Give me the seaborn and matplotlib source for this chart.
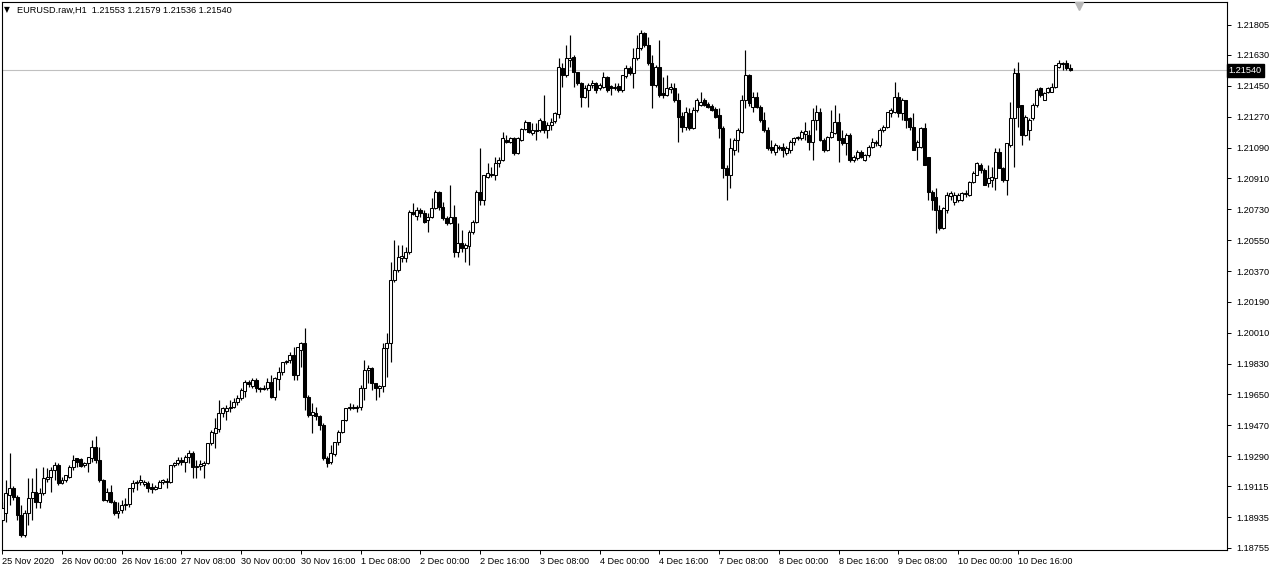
import numpy as np
import matplotlib
matplotlib.use("Agg")
import matplotlib.pyplot as plt
import seaborn as sns

# ---------------- data (EURUSD H1) ----------------
opens = [
 1.18918, 1.18959, 1.19064, 1.19105, 1.19052, 1.18947, 1.18831, 1.18959, 1.19047, 1.19082,
 1.19023, 1.19076, 1.19157, 1.19169, 1.19210, 1.19239, 1.19134, 1.19151, 1.19169, 1.19227,
 1.19280, 1.19274, 1.19239, 1.19251, 1.19280, 1.19344, 1.19268, 1.19151, 1.19035, 1.19082,
 1.19023, 1.18959, 1.18976, 1.19006, 1.19012, 1.19105, 1.19134, 1.19140, 1.19128, 1.19134,
 1.19111, 1.19099, 1.19105, 1.19140, 1.19146, 1.19140, 1.19239, 1.19251, 1.19268, 1.19257,
 1.19286, 1.19309, 1.19227, 1.19233, 1.19239, 1.19251, 1.19367, 1.19425, 1.19449, 1.19542,
 1.19554, 1.19571, 1.19577, 1.19606, 1.19630, 1.19671, 1.19723, 1.19700, 1.19735, 1.19688,
 1.19682, 1.19688, 1.19723, 1.19636, 1.19741, 1.19781, 1.19840, 1.19851, 1.19881, 1.19764,
 1.19910, 1.19951, 1.19636, 1.19531, 1.19542, 1.19525, 1.19472, 1.19280, 1.19257, 1.19303,
 1.19373, 1.19431, 1.19501, 1.19571, 1.19577, 1.19571, 1.19577, 1.19688, 1.19793, 1.19805,
 1.19717, 1.19688, 1.19700, 1.19921, 1.19951, 1.20318, 1.20376, 1.20446, 1.20446, 1.20481,
 1.20714, 1.20691, 1.20726, 1.20709, 1.20668, 1.20685, 1.20738, 1.20831, 1.20744, 1.20680,
 1.20651, 1.20685, 1.20481, 1.20534, 1.20505, 1.20516, 1.20598, 1.20656, 1.20831, 1.20784,
 1.20918, 1.20936, 1.20930, 1.21001, 1.21018, 1.21134, 1.21123, 1.21146, 1.21059, 1.21134,
 1.21198, 1.21239, 1.21175, 1.21187, 1.21193, 1.21245, 1.21193, 1.21222, 1.21245, 1.21286,
 1.21554, 1.21514, 1.21601, 1.21619, 1.21531, 1.21467, 1.21385, 1.21426, 1.21455, 1.21467,
 1.21438, 1.21444, 1.21502, 1.21450, 1.21438, 1.21450, 1.21426, 1.21508, 1.21554, 1.21525,
 1.21613, 1.21671, 1.21758, 1.21689, 1.21584, 1.21455, 1.21560, 1.21409, 1.21397, 1.21432,
 1.21438, 1.21368, 1.21274, 1.21210, 1.21292, 1.21204, 1.21309, 1.21339, 1.21368, 1.21344,
 1.21333, 1.21315, 1.21280, 1.21204, 1.20971, 1.20930, 1.21076, 1.21134, 1.21181, 1.21368,
 1.21514, 1.21327, 1.21385, 1.21327, 1.21251, 1.21193, 1.21094, 1.21065, 1.21088, 1.21094,
 1.21059, 1.21076, 1.21123, 1.21146, 1.21146, 1.21170, 1.21164, 1.21123, 1.21251, 1.21298,
 1.21134, 1.21076, 1.21152, 1.21175, 1.21239, 1.21146, 1.21117, 1.21164, 1.21018, 1.21030,
 1.21065, 1.21018, 1.21047, 1.21094, 1.21117, 1.21105, 1.21193, 1.21210, 1.21292, 1.21298,
 1.21385, 1.21292, 1.21368, 1.21263, 1.21210, 1.21094, 1.21094, 1.21204, 1.21036, 1.20831,
 1.20802, 1.20726, 1.20621, 1.20726, 1.20808, 1.20773, 1.20784, 1.20784, 1.20820, 1.20814,
 1.20889, 1.20930, 1.20989, 1.20959, 1.20884, 1.20901, 1.20913, 1.21065, 1.20971, 1.20901,
 1.21105, 1.21263, 1.21525, 1.21339, 1.21164, 1.21193, 1.21263, 1.21339, 1.21438, 1.21368,
 1.21415, 1.21415, 1.21444, 1.21560, 1.21578, 1.21584, 1.21553]

highs = [
 1.19023, 1.19151, 1.19309, 1.19116, 1.19064, 1.19006, 1.18976, 1.19163, 1.19163, 1.19222,
 1.19105, 1.19227, 1.19222, 1.19227, 1.19257, 1.19251, 1.19169, 1.19181, 1.19239, 1.19297,
 1.19280, 1.19280, 1.19257, 1.19286, 1.19385, 1.19408, 1.19344, 1.19157, 1.19105, 1.19122,
 1.19035, 1.19023, 1.19035, 1.19047, 1.19105, 1.19151, 1.19151, 1.19181, 1.19151, 1.19146,
 1.19134, 1.19122, 1.19151, 1.19157, 1.19163, 1.19239, 1.19257, 1.19286, 1.19286, 1.19297,
 1.19326, 1.19320, 1.19268, 1.19268, 1.19262, 1.19367, 1.19443, 1.19513, 1.19618, 1.19577,
 1.19589, 1.19618, 1.19630, 1.19647, 1.19688, 1.19735, 1.19735, 1.19746, 1.19746, 1.19694,
 1.19706, 1.19746, 1.19764, 1.19752, 1.19811, 1.19840, 1.19851, 1.19898, 1.19928, 1.19928,
 1.19956, 1.20038, 1.19647, 1.19601, 1.19577, 1.19531, 1.19484, 1.19292, 1.19356, 1.19373,
 1.19443, 1.19501, 1.19571, 1.19601, 1.19595, 1.19589, 1.19706, 1.19851, 1.19822, 1.19811,
 1.19717, 1.19706, 1.19951, 1.20009, 1.20423, 1.20551, 1.20522, 1.20522, 1.20511, 1.20726,
 1.20767, 1.20744, 1.20738, 1.20726, 1.20709, 1.20796, 1.20843, 1.20837, 1.20773, 1.20691,
 1.20872, 1.20755, 1.20651, 1.20609, 1.20534, 1.20609, 1.20668, 1.20843, 1.21088, 1.20930,
 1.21001, 1.20977, 1.21036, 1.21036, 1.21181, 1.21164, 1.21152, 1.21152, 1.21152, 1.21204,
 1.21251, 1.21239, 1.21233, 1.21233, 1.21263, 1.21397, 1.21239, 1.21263, 1.21298, 1.21613,
 1.21584, 1.21689, 1.21747, 1.21630, 1.21531, 1.21473, 1.21455, 1.21467, 1.21484, 1.21473,
 1.21467, 1.21531, 1.21508, 1.21455, 1.21467, 1.21467, 1.21514, 1.21572, 1.21566, 1.21671,
 1.21747, 1.21776, 1.21764, 1.21735, 1.21630, 1.21572, 1.21718, 1.21502, 1.21514, 1.21467,
 1.21467, 1.21409, 1.21298, 1.21327, 1.21321, 1.21327, 1.21380, 1.21415, 1.21380, 1.21356,
 1.21344, 1.21327, 1.21321, 1.21216, 1.20989, 1.21146, 1.21146, 1.21204, 1.21397, 1.21659,
 1.21520, 1.21415, 1.21415, 1.21339, 1.21298, 1.21210, 1.21134, 1.21117, 1.21105, 1.21117,
 1.21099, 1.21134, 1.21152, 1.21158, 1.21193, 1.21239, 1.21193, 1.21321, 1.21339, 1.21321,
 1.21146, 1.21158, 1.21309, 1.21339, 1.21292, 1.21193, 1.21175, 1.21175, 1.21047, 1.21076,
 1.21076, 1.21053, 1.21105, 1.21146, 1.21134, 1.21204, 1.21222, 1.21298, 1.21321, 1.21473,
 1.21415, 1.21380, 1.21368, 1.21269, 1.21292, 1.21134, 1.21210, 1.21233, 1.21036, 1.20843,
 1.20855, 1.20755, 1.20744, 1.20831, 1.20837, 1.20831, 1.20825, 1.20831, 1.20843, 1.20895,
 1.20953, 1.21007, 1.21001, 1.20971, 1.20989, 1.20977, 1.21088, 1.21088, 1.20977, 1.21117,
 1.21356, 1.21554, 1.21590, 1.21339, 1.21280, 1.21263, 1.21350, 1.21438, 1.21444, 1.21415,
 1.21444, 1.21467, 1.21572, 1.21601, 1.21590, 1.21601, 1.21579]

lows = [
 1.18906, 1.18906, 1.19006, 1.19035, 1.18918, 1.18819, 1.18819, 1.18889, 1.18918, 1.18988,
 1.18988, 1.19064, 1.19140, 1.19082, 1.19151, 1.19122, 1.19128, 1.19140, 1.19163, 1.19210,
 1.19227, 1.19227, 1.19227, 1.19198, 1.19257, 1.19251, 1.19140, 1.19029, 1.19023, 1.19017,
 1.18947, 1.18930, 1.18959, 1.18976, 1.18994, 1.19082, 1.19093, 1.19122, 1.19116, 1.19082,
 1.19076, 1.19093, 1.19105, 1.19128, 1.19105, 1.19134, 1.19227, 1.19239, 1.19239, 1.19198,
 1.19251, 1.19163, 1.19163, 1.19210, 1.19163, 1.19245, 1.19356, 1.19338, 1.19431, 1.19519,
 1.19501, 1.19548, 1.19571, 1.19589, 1.19618, 1.19636, 1.19694, 1.19688, 1.19665, 1.19665,
 1.19676, 1.19676, 1.19630, 1.19618, 1.19676, 1.19764, 1.19828, 1.19834, 1.19735, 1.19735,
 1.19811, 1.19560, 1.19519, 1.19426, 1.19501, 1.19443, 1.19268, 1.19227, 1.19245, 1.19292,
 1.19356, 1.19426, 1.19496, 1.19560, 1.19566, 1.19548, 1.19560, 1.19618, 1.19717, 1.19676,
 1.19618, 1.19636, 1.19665, 1.19752, 1.19840, 1.20306, 1.20364, 1.20423, 1.20423, 1.20469,
 1.20697, 1.20668, 1.20685, 1.20651, 1.20598, 1.20680, 1.20732, 1.20726, 1.20668, 1.20639,
 1.20645, 1.20452, 1.20452, 1.20481, 1.20423, 1.20405, 1.20586, 1.20651, 1.20755, 1.20755,
 1.20913, 1.20918, 1.20901, 1.20977, 1.21012, 1.21117, 1.21117, 1.21047, 1.21053, 1.21128,
 1.21193, 1.21175, 1.21164, 1.21134, 1.21181, 1.21175, 1.21146, 1.21193, 1.21233, 1.21263,
 1.21444, 1.21502, 1.21560, 1.21444, 1.21455, 1.21327, 1.21380, 1.21327, 1.21438, 1.21409,
 1.21426, 1.21438, 1.21415, 1.21397, 1.21426, 1.21415, 1.21415, 1.21496, 1.21514, 1.21438,
 1.21601, 1.21659, 1.21677, 1.21572, 1.21321, 1.21444, 1.21385, 1.21380, 1.21391, 1.21409,
 1.21356, 1.21123, 1.21181, 1.21193, 1.21193, 1.21198, 1.21298, 1.21333, 1.21333, 1.21321,
 1.21304, 1.21263, 1.21146, 1.20913, 1.20784, 1.20855, 1.21047, 1.21065, 1.21175, 1.21321,
 1.21333, 1.21298, 1.21321, 1.21239, 1.21181, 1.21076, 1.21059, 1.21047, 1.21076, 1.21036,
 1.21047, 1.21059, 1.21105, 1.21134, 1.21134, 1.21134, 1.21076, 1.21018, 1.21193, 1.21128,
 1.21065, 1.21070, 1.21146, 1.21170, 1.21007, 1.21105, 1.21047, 1.21007, 1.21007, 1.21018,
 1.21030, 1.21012, 1.21036, 1.21088, 1.21099, 1.21094, 1.21181, 1.21204, 1.21269, 1.21292,
 1.21269, 1.21251, 1.21204, 1.21193, 1.21076, 1.21018, 1.21088, 1.20989, 1.20784, 1.20726,
 1.20592, 1.20609, 1.20615, 1.20709, 1.20784, 1.20755, 1.20773, 1.20779, 1.20802, 1.20808,
 1.20884, 1.20930, 1.20942, 1.20872, 1.20860, 1.20860, 1.20843, 1.20971, 1.20889, 1.20814,
 1.21094, 1.20977, 1.21210, 1.21105, 1.21158, 1.21134, 1.21251, 1.21327, 1.21385, 1.21368,
 1.21409, 1.21415, 1.21438, 1.21554, 1.21543, 1.21543, 1.21536]

closes = [
 1.18988, 1.19076, 1.19105, 1.19052, 1.18947, 1.18831, 1.18959, 1.19047, 1.19082, 1.19023,
 1.19076, 1.19163, 1.19169, 1.19210, 1.19239, 1.19134, 1.19151, 1.19181, 1.19227, 1.19268,
 1.19257, 1.19233, 1.19251, 1.19286, 1.19344, 1.19268, 1.19151, 1.19035, 1.19082, 1.19023,
 1.18959, 1.18971, 1.19006, 1.19012, 1.19105, 1.19134, 1.19140, 1.19151, 1.19140, 1.19105,
 1.19099, 1.19111, 1.19140, 1.19151, 1.19140, 1.19239, 1.19251, 1.19268, 1.19257, 1.19286,
 1.19309, 1.19227, 1.19233, 1.19245, 1.19251, 1.19367, 1.19431, 1.19455, 1.19542, 1.19571,
 1.19571, 1.19577, 1.19606, 1.19630, 1.19676, 1.19723, 1.19711, 1.19735, 1.19688, 1.19682,
 1.19688, 1.19723, 1.19636, 1.19746, 1.19781, 1.19840, 1.19846, 1.19881, 1.19764, 1.19928,
 1.19951, 1.19636, 1.19531, 1.19548, 1.19525, 1.19472, 1.19280, 1.19251, 1.19309, 1.19373,
 1.19431, 1.19501, 1.19571, 1.19577, 1.19571, 1.19577, 1.19688, 1.19793, 1.19805, 1.19717,
 1.19688, 1.19700, 1.19921, 1.19951, 1.20318, 1.20376, 1.20452, 1.20458, 1.20481, 1.20714,
 1.20703, 1.20726, 1.20709, 1.20656, 1.20685, 1.20738, 1.20831, 1.20744, 1.20680, 1.20651,
 1.20685, 1.20481, 1.20534, 1.20505, 1.20522, 1.20598, 1.20656, 1.20831, 1.20784, 1.20930,
 1.20942, 1.20930, 1.21001, 1.21018, 1.21146, 1.21123, 1.21146, 1.21059, 1.21146, 1.21198,
 1.21239, 1.21181, 1.21193, 1.21193, 1.21251, 1.21193, 1.21222, 1.21239, 1.21292, 1.21560,
 1.21514, 1.21613, 1.21613, 1.21531, 1.21467, 1.21385, 1.21438, 1.21455, 1.21467, 1.21426,
 1.21455, 1.21502, 1.21426, 1.21438, 1.21444, 1.21426, 1.21514, 1.21554, 1.21525, 1.21613,
 1.21671, 1.21758, 1.21689, 1.21584, 1.21455, 1.21560, 1.21397, 1.21397, 1.21438, 1.21444,
 1.21368, 1.21269, 1.21210, 1.21298, 1.21204, 1.21309, 1.21368, 1.21356, 1.21339, 1.21327,
 1.21309, 1.21269, 1.21204, 1.20971, 1.20930, 1.21088, 1.21134, 1.21193, 1.21368, 1.21514,
 1.21350, 1.21385, 1.21327, 1.21251, 1.21193, 1.21088, 1.21076, 1.21105, 1.21094, 1.21076,
 1.21088, 1.21123, 1.21146, 1.21152, 1.21181, 1.21187, 1.21123, 1.21251, 1.21298, 1.21134,
 1.21076, 1.21152, 1.21181, 1.21239, 1.21134, 1.21117, 1.21164, 1.21018, 1.21036, 1.21065,
 1.21036, 1.21047, 1.21094, 1.21123, 1.21123, 1.21193, 1.21210, 1.21298, 1.21309, 1.21385,
 1.21292, 1.21368, 1.21251, 1.21210, 1.21076, 1.21123, 1.21204, 1.20989, 1.20831, 1.20784,
 1.20726, 1.20621, 1.20738, 1.20814, 1.20825, 1.20814, 1.20814, 1.20825, 1.20825, 1.20889,
 1.20942, 1.21001, 1.20959, 1.20872, 1.20913, 1.20918, 1.21065, 1.20971, 1.20901, 1.21117,
 1.21263, 1.21525, 1.21327, 1.21164, 1.21269, 1.21251, 1.21339, 1.21426, 1.21397, 1.21409,
 1.21438, 1.21444, 1.21572, 1.21584, 1.21584, 1.21554, 1.21540]

time_tick_bars = [0, 16, 32, 48, 64, 80, 96, 112, 128, 144, 160, 176, 192, 208, 224, 240, 256, 272]
time_tick_labels = ["25 Nov 2020", "26 Nov 00:00", "26 Nov 16:00", "27 Nov 08:00", "30 Nov 00:00",
                    "30 Nov 16:00", "1 Dec 08:00", "2 Dec 00:00", "2 Dec 16:00", "3 Dec 08:00",
                    "4 Dec 00:00", "4 Dec 16:00", "7 Dec 08:00", "8 Dec 00:00", "8 Dec 16:00",
                    "9 Dec 08:00", "10 Dec 00:00", "10 Dec 16:00"]
price_ticks = [1.21805, 1.21630, 1.21450, 1.21270, 1.21090, 1.20910, 1.20730, 1.20550, 1.20370,
               1.20190, 1.20010, 1.19830, 1.19650, 1.19470, 1.19290, 1.19115, 1.18935, 1.18755]
symbol_title = "EURUSD.raw,H1  1.21553 1.21579 1.21536 1.21540"
last_price = 1.21540

# ---------------- drawing ----------------
sns.set_theme(style="white")
plt.rcParams['font.family'] = ['Liberation Sans', 'DejaVu Sans']

o = np.array(opens); h = np.array(highs); l = np.array(lows); c = np.array(closes)
n = min(len(o), len(h), len(l), len(c))
o, h, l, c = o[:n], h[:n], l[:n], c[:n]
idx = np.arange(n)

W, H = 1270, 570
fig = plt.figure(figsize=(W / 100, H / 100), dpi=100)
fig.patch.set_facecolor("white")
ax = fig.add_axes([2 / W, 20 / H, 1225 / W, 548 / H])
ax.set_facecolor("white")

bull = c >= o
body_lo = np.minimum(o, c)
body_hi = np.maximum(o, c)
body_h = np.maximum(body_hi - body_lo, 0.000012)

# current price line
ax.axhline(last_price, color="#c0c0c0", linewidth=0.8, zorder=1)

# wicks
ax.vlines(idx, np.minimum(l, body_lo), np.maximum(h, body_hi), color="black", linewidth=0.85, zorder=2)
# bodies
ax.bar(idx, body_h, bottom=body_lo, width=0.8,
       color=np.where(bull, "white", "black"), edgecolor="black", linewidth=0.75, zorder=3)

ax.set_xlim(-0.067, 328.0)
ax.set_ylim(1.18743, 1.21939)

for sp in ax.spines.values():
    sp.set_visible(True)
    sp.set_color("black")
    sp.set_linewidth(0.8)

ax.yaxis.set_ticks_position("right")
ax.set_yticks(price_ticks)
ax.set_yticklabels([f"{v:.5f}" for v in price_ticks])
ax.tick_params(axis="y", which="both", right=True, left=False, direction="out",
               length=3, width=0.7, color="black", labelsize=6.6, pad=4, labelcolor="black")

ax.set_xticks(time_tick_bars)
ax.set_xticklabels(time_tick_labels)
ax.tick_params(axis="x", which="both", bottom=True, direction="out", length=3, width=0.7,
               color="black", labelsize=6.6, pad=2, labelcolor="black")
for t in ax.get_xticklabels():
    t.set_ha("left")
ax.grid(False)

# last price label on the right axis
ax.text(1.0015, last_price, f"{last_price:.5f}", transform=ax.get_yaxis_transform(),
        ha="left", va="center", fontsize=6.6, color="white", clip_on=False, zorder=10,
        bbox=dict(boxstyle="square,pad=0.25", facecolor="black", edgecolor="black"))

# header
fig.text(4 / W, 1 - 10 / H, "\u25BC", fontsize=5.5, va="center", ha="left",
         family=["DejaVu Sans"], color="black")
fig.text(17 / W, 1 - 10 / H, symbol_title, fontsize=6.6, va="center", ha="left", color="black")

# chart shift marker
ax.plot([0.8795], [0.993], marker="v", markersize=6, color="#b8b8b8",
        transform=ax.transAxes, clip_on=False, zorder=11)

fig.savefig("out.png", dpi=100, facecolor="white")
